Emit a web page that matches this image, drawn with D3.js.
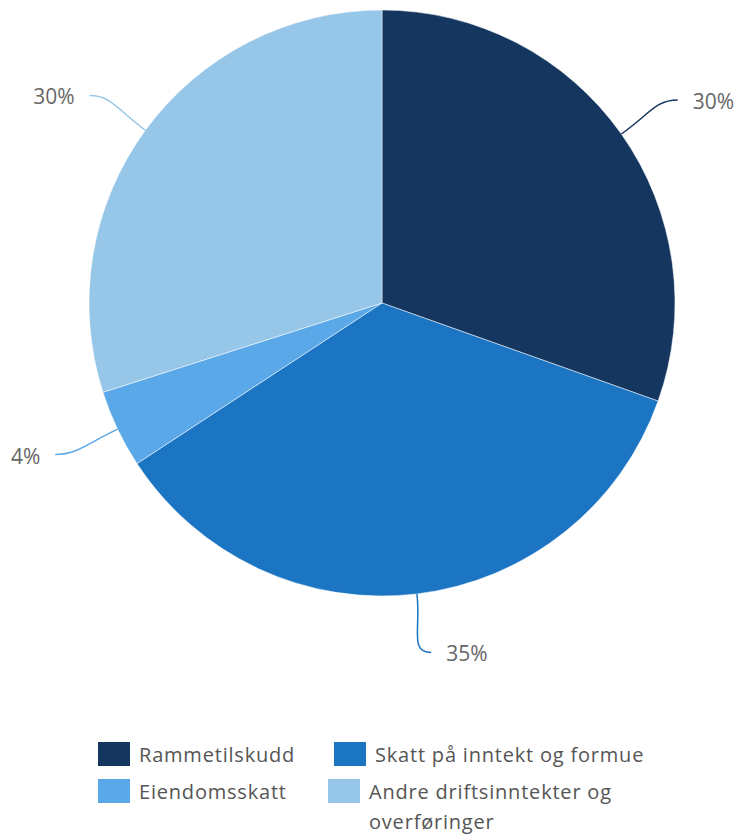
<!DOCTYPE html>
<html>
<head>
<meta charset="utf-8">
<script src="https://cdn.jsdelivr.net/npm/d3@7"></script>
<style>
  body { margin: 0; background: #fff; }
  svg { display: block; font-family: "Open Sans", Lato, sans-serif; }
</style>
</head>
<body>
<svg width="749" height="836"></svg>
<script>
'use strict';

// data
var categories = ['Rammetilskudd', 'Skatt på inntekt og formue', 'Eiendomsskatt', 'Andre driftsinntekter og overføringer'];
var values = [30.4, 35.3, 4.3, 29.9];
var labels = ['30%', '35%', '4%', '30%'];
var colors = ['#14365f', '#1c75c2', '#5aa8e8', '#96c6e8'];

var svg = d3.select('svg');
var cx = 382, cy = 303, r = 293;

var pie = d3.pie().sort(null).value(function(d) { return d; });
var arcs = pie(values);
var arc = d3.arc().innerRadius(0).outerRadius(r);

var g = svg.append('g').attr('transform', 'translate(' + cx + ',' + cy + ')');

g.selectAll('path.slice')
  .data(arcs)
  .enter()
  .append('path')
  .attr('class', 'slice')
  .attr('d', arc)
  .attr('fill', function(d, i) { return colors[i]; })
  .attr('stroke', '#fff')
  .attr('stroke-width', 0.5);

// connectors + labels
var pt = function(a, rx, ry) { return [rx * Math.sin(a), -(ry || rx) * Math.cos(a)]; };

arcs.forEach(function(d, i) {
  var mid = (d.startAngle + d.endAngle) / 2;
  var p0 = pt(mid, r);
  var p3 = pt(mid, 362, 352);
  var side = Math.sin(mid) >= 0 ? 1 : -1;
  // bottom label sits a bit further right
  if (Math.abs(Math.sin(mid)) < 0.3) p3[0] += 6;
  var c1 = pt(mid, r + 35);
  var c2 = [p3[0] - side * 22, p3[1]];
  g.append('path')
    .attr('d', 'M' + p0 + ' C' + c1 + ' ' + c2 + ' ' + p3)
    .attr('fill', 'none')
    .attr('stroke', colors[i])
    .attr('stroke-width', 1.5);
  g.append('text')
    .attr('x', p3[0] + side * 15)
    .attr('y', p3[1] + 9)
    .attr('text-anchor', side > 0 ? 'start' : 'end')
    .attr('fill', '#666')
    .style('font-size', '21px')
    .text(labels[i]);
});

// legend
var legendPos = [[98, 742], [334, 742], [98, 779], [328, 779]];
var legend = svg.selectAll('.legend')
  .data(categories)
  .enter()
  .append('g')
  .attr('class', 'legend')
  .attr('transform', function(d, i) {
    return 'translate(' + legendPos[i] + ')';
  });

legend.append('rect')
  .attr('width', 32)
  .attr('height', 24)
  .attr('fill', function(d, i) { return colors[i]; });

legend.append('text')
  .attr('y', 20)
  .attr('fill', '#555')
  .style('font-size', '20px')
  .style('letter-spacing', '0.8px')
  .each(function(d) {
    var t = d3.select(this);
    var lines = d === categories[3] ? ['Andre driftsinntekter og', 'overføringer'] : [d];
    lines.forEach(function(l, k) {
      t.append('tspan').attr('x', 41).attr('dy', k === 0 ? 0 : 30).text(l);
    });
  });
</script>
</body>
</html>
